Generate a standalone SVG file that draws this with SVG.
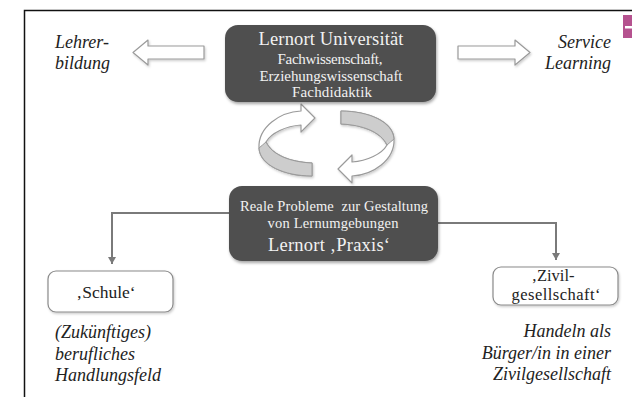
<svg xmlns="http://www.w3.org/2000/svg" width="632" height="397" viewBox="0 0 632 397">
  <style>
    .frame { fill: none; stroke: #111; stroke-width: 1.5; }
    .dark { fill: #4f4f4f; }
    .light { fill: #ffffff; stroke: #8a8a8a; stroke-width: 1.2; }
    .hollow { fill: #ffffff; stroke: #9a9a9a; stroke-width: 1.2; stroke-linejoin: round; }
    .band { fill: #cdcdcd; stroke: #9a9a9a; stroke-width: 1; stroke-linejoin: round; }
    .conn { fill: none; stroke: #7a7a7a; stroke-width: 2; }
    .head { fill: #7a7a7a; }
    .serif { font-family: "Liberation Serif", "Times New Roman", serif; }
    .inv { fill: #f2f2f2; text-anchor: middle; }
    .lbl { fill: #222; font-style: italic; font-size: 18px; }
    .box-t { fill: #222; font-size: 17.5px; text-anchor: middle; }
    .box-s { fill: #222; font-size: 16.5px; text-anchor: middle; }
  </style>
  <defs>
    <filter id="shadow" x="-10%" y="-10%" width="125%" height="140%">
      <feDropShadow dx="1" dy="2" stdDeviation="1.5" flood-color="#000" flood-opacity="0.35"/>
    </filter>
    <filter id="softshadow" x="-10%" y="-20%" width="125%" height="150%">
      <feDropShadow dx="1" dy="1.5" stdDeviation="1.2" flood-color="#000" flood-opacity="0.2"/>
    </filter>
    <marker id="tip" markerWidth="8" markerHeight="8" refX="4" refY="7" orient="0" markerUnits="userSpaceOnUse">
      <path d="M0,0 L8,0 L4,7 Z" class="head"/>
    </marker>
    <!-- one ribbon arrow of the exchange cycle -->
    <g id="ribbon">
      <path class="hollow" d="M312,176 C284,176 260,165 259,148 C258,127 280,112 301,111 L301,104 L315,118 L301,132 L301,125 C286,126 271,133 266,142 C272,155 290,162 312,163 Z"/>
      <path class="band" d="M312,176 C284,176 260,165 259,148 C261,146 264,144 266,142 C272,155 290,162 312,163 Z"/>
    </g>
  </defs>

  <rect width="632" height="397" fill="#ffffff"/>

  <!-- page frame (top and left edges) -->
  <path class="frame" d="M24.5,397 L24.5,10.5 L632,10.5"/>
  <!-- corner tab -->
  <rect x="623" y="15" width="9" height="23" fill="#b5528f"/>
  <rect x="625" y="26" width="7" height="2.5" fill="#ffffff"/>

  <!-- connectors -->
  <g id="connectors">
    <path class="conn" d="M230,213 L112,213 L112,264" marker-end="url(#tip)"/>
    <path class="conn" d="M438,223 L556,223 L556,260" marker-end="url(#tip)"/>
    <!-- hollow block arrows beside the university node -->
    <path class="hollow" filter="url(#softshadow)" d="M204,46 L148,46 L148,40 L133,52.5 L148,65 L148,59 L204,59 Z"/>
    <path class="hollow" filter="url(#softshadow)" d="M458,46 L515,46 L515,40 L530,52.5 L515,65 L515,59 L458,59 Z"/>
    <!-- circular exchange arrows -->
    <g id="cycle" filter="url(#softshadow)">
      <use href="#ribbon"/>
      <use href="#ribbon" transform="rotate(180 326.5 143.5)"/>
    </g>
  </g>

  <g id="universitaet">
    <rect class="dark" x="225" y="25" width="211" height="77" rx="13" filter="url(#shadow)"/>
    <text class="serif inv" x="331" y="45" font-size="18.5" textLength="145">Lernort Universität</text>
    <text class="serif inv" x="330" y="64" font-size="15" textLength="105">Fachwissenschaft,</text>
    <text class="serif inv" x="331" y="81" font-size="15" textLength="143">Erziehungswissenschaft</text>
    <text class="serif inv" x="332" y="97" font-size="15" textLength="80">Fachdidaktik</text>
  </g>

  <g id="praxis">
    <rect class="dark" x="229" y="186" width="209" height="75" rx="13" filter="url(#shadow)"/>
    <text class="serif inv" x="334" y="211" font-size="14.5" xml:space="preserve" textLength="188">Reale Probleme  zur Gestaltung</text>
    <text class="serif inv" x="333" y="228" font-size="14.5" textLength="131">von Lernumgebungen</text>
    <text class="serif inv" x="329" y="251" font-size="18.5" textLength="122">Lernort ‚Praxis‘</text>
  </g>

  <g id="lehrerbildung">
    <text class="serif lbl" x="55" y="48">Lehrer-</text>
    <text class="serif lbl" x="55" y="69">bildung</text>
  </g>

  <g id="service-learning">
    <text class="serif lbl" x="611" y="48" text-anchor="end">Service</text>
    <text class="serif lbl" x="611" y="69" text-anchor="end">Learning</text>
  </g>

  <g id="schule">
    <rect class="light" x="48" y="271" width="125" height="41" rx="8" filter="url(#softshadow)"/>
    <text class="serif box-t" x="106" y="298">‚Schule‘</text>
  </g>

  <g id="zivilgesellschaft">
    <rect class="light" x="493" y="267" width="125" height="38" rx="8" filter="url(#softshadow)"/>
    <text class="serif box-s" x="553" y="281">‚Zivil-</text>
    <text class="serif box-s" x="556" y="300" textLength="89">gesellschaft‘</text>
  </g>

  <g id="handlungsfeld">
    <text class="serif lbl" x="55" y="338">(Zukünftiges)</text>
    <text class="serif lbl" x="55" y="360">berufliches</text>
    <text class="serif lbl" x="55" y="381">Handlungsfeld</text>
  </g>

  <g id="buerger">
    <text class="serif lbl" x="611" y="337" text-anchor="end">Handeln als</text>
    <text class="serif lbl" x="611" y="359" text-anchor="end">Bürger/in in einer</text>
    <text class="serif lbl" x="611" y="380" text-anchor="end">Zivilgesellschaft</text>
  </g>
</svg>
